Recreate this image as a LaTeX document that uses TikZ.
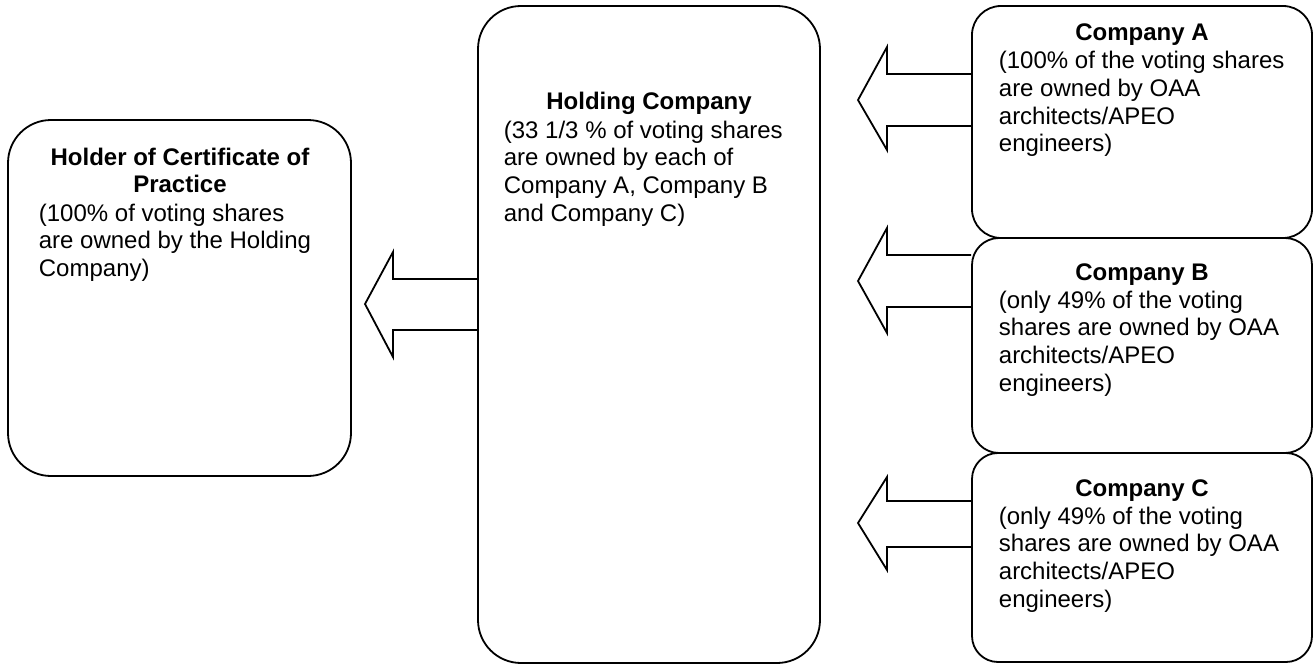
\documentclass[tikz,border=0pt]{standalone}
\usepackage{fontspec}
\setmainfont{Liberation Sans}
\begin{document}
\begin{tikzpicture}[x=1pt,y=-1pt,line width=1.8pt,
  box/.style={draw,rectangle,inner sep=0pt},
  ttl/.style={inner sep=0pt,anchor=base,align=center,font=\fontsize{24}{27.6}\selectfont\bfseries},
  txt/.style={inner sep=0pt,anchor=north west,align=left,font=\fontsize{24}{27.6}\selectfont},
  arr/.style={draw,line join=miter}]
\useasboundingbox (0,0) rectangle (1315,669);
% boxes
\node[box,rounded corners=43pt,minimum width=343pt,minimum height=356pt] (holder) at (179.5,298) {};
\node[box,rounded corners=43pt,minimum width=342pt,minimum height=657pt] (holding) at (649,334.5) {};
\node[box,rounded corners=29pt,minimum width=340pt,minimum height=232pt] (compA) at (1142,122) {};
\node[box,rounded corners=27pt,minimum width=340pt,minimum height=215pt] (compB) at (1142,345.5) {};
\node[box,rounded corners=26pt,minimum width=340pt,minimum height=209pt] (compC) at (1142,557.5) {};
% titles
\node[ttl] (hdrholder) at (180,192.6) {Holder of Certificate of\\ Practice};
\node[ttl] (hdrholding) at (649,110) {Holding Company};
\node[ttl] (hdrA) at (1142,40.5) {Company A};
\node[ttl] (hdrB) at (1142,280) {Company B};
\node[ttl] (hdrC) at (1142,496) {Company C};
% bodies
\node[txt] (tholder) at (38,203) {(100\% of voting shares\\ are owned by the Holding\\ Company)};
\node[txt] (tholding) at (503,120) {(33 1/3 \% of voting shares\\ are owned by each of\\ Company A, Company B\\ and Company C)};
\node[txt] (tA) at (998,50.6) {(100\% of the voting shares\\ are owned by OAA\\ architects/APEO\\ engineers)};
\node[txt] (tB) at (998,290.1) {(only 49\% of the voting\\ shares are owned by OAA\\ architects/APEO\\ engineers)};
\node[txt] (tC) at (998,506.1) {(only 49\% of the voting\\ shares are owned by OAA\\ architects/APEO\\ engineers)};
% block arrows
\draw[arr] (holding.west |- 0,279) -- (393,279) -- (393,252) -- (365,304) -- (393,357) -- (393,330) -- (holding.west |- 0,330);
\draw[arr] (compA.west |- 0,74) -- (887,74) -- (887,47) -- (858,100) -- (887,150) -- (887,126) -- (compA.west |- 0,126);
\draw[arr] (compB.west |- 0,255) -- (887,255) -- (887,228) -- (858,281) -- (887,333) -- (887,307) -- (compB.west |- 0,307);
\draw[arr] (compC.west |- 0,501) -- (887,501) -- (887,477) -- (858,523) -- (887,570) -- (887,547) -- (compC.west |- 0,547);
\end{tikzpicture}
\end{document}
